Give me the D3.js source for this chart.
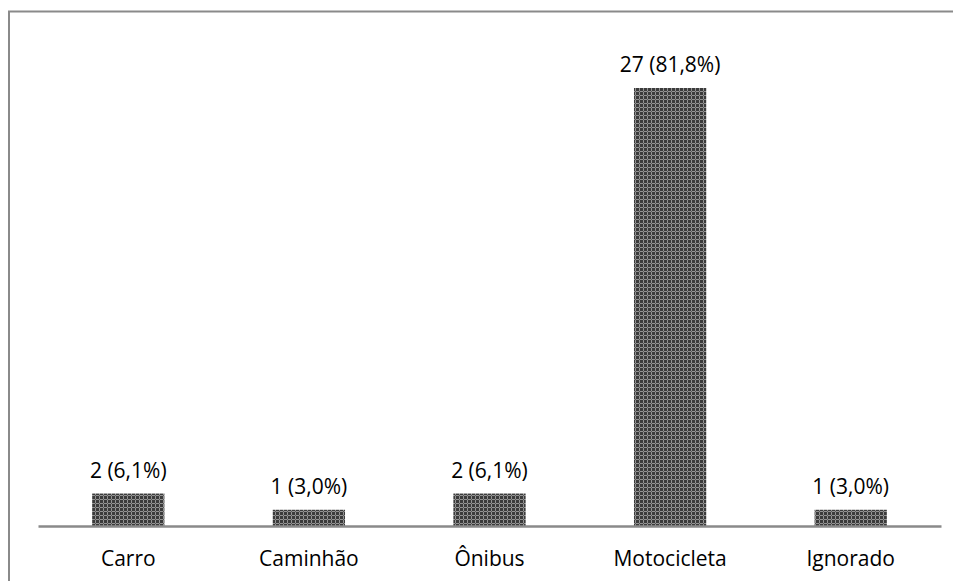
<!DOCTYPE html>
<html>
<head>
<meta charset="utf-8">
<script src="https://cdn.jsdelivr.net/npm/d3@7"></script>
<style>
  html, body { margin: 0; padding: 0; background: #fff; }
  svg { display: block; }
</style>
</head>
<body>
<svg id="chart" width="953" height="581"></svg>
<script>
// Vehicle types and counts (with share of total)
const categories = ["Carro", "Caminhão", "Ônibus", "Motocicleta", "Ignorado"];
const counts = [2, 1, 2, 27, 1];
const shares = ["6,1%", "3,0%", "6,1%", "81,8%", "3,0%"];

const svg = d3.select("#chart");
const W = 953, H = 581;
const font = "'Open Sans', 'Noto Sans', sans-serif";

// Hatched-grid fill used by the bars
const defs = svg.append("defs");
const pat = defs.append("pattern")
  .attr("id", "grid")
  .attr("patternUnits", "userSpaceOnUse")
  .attr("width", 4).attr("height", 4);
pat.append("rect").attr("width", 4).attr("height", 4).attr("fill", "#3b3b3b");
pat.append("rect").attr("x", 0).attr("y", 3).attr("width", 4).attr("height", 1).attr("fill", "#939393");
pat.append("rect").attr("x", 3).attr("y", 0).attr("width", 1).attr("height", 4).attr("fill", "#939393");
pat.append("rect").attr("x", 3).attr("y", 3).attr("width", 1).attr("height", 1).attr("fill", "#5a5a5a");

// Chart frame (left and top edges visible)
svg.append("line").attr("x1", 9).attr("x2", 9).attr("y1", 11).attr("y2", H)
  .attr("stroke", "#8a8a8a").attr("stroke-width", 2);
svg.append("line").attr("x1", 8).attr("x2", W).attr("y1", 11.5).attr("y2", 11.5)
  .attr("stroke", "#8a8a8a").attr("stroke-width", 2);

// Scales
const x = d3.scaleBand().domain(categories).range([38, 941]).padding(0);
const y = d3.scaleLinear().domain([0, 27]).range([526, 88]);
const barW = x.bandwidth() * 0.4;

const data = categories.map((c, i) => ({ cat: c, v: counts[i], pct: shares[i] }));

// Bars
svg.append("g").selectAll("rect").data(data).join("rect")
  .attr("x", d => x(d.cat) + (x.bandwidth() - barW) / 2)
  .attr("y", d => y(d.v))
  .attr("width", barW)
  .attr("height", d => y(0) - y(d.v))
  .attr("fill", "url(#grid)");

// Category axis
const xAxis = svg.append("g")
  .attr("transform", `translate(0,${y(0)})`)
  .call(d3.axisBottom(x).tickSize(0).tickPadding(25));
xAxis.select(".domain").attr("stroke", "#8a8a8a").attr("stroke-width", 2.5);
xAxis.selectAll("text")
  .attr("font-family", font).attr("font-size", 21).attr("fill", "#000");

// Value labels
svg.append("g").selectAll("text").data(data).join("text")
  .attr("x", d => x(d.cat) + x.bandwidth() / 2)
  .attr("y", d => y(d.v) - 16)
  .attr("text-anchor", "middle")
  .attr("font-family", font).attr("font-size", 21).attr("fill", "#000")
  .text(d => `${d.v} (${d.pct})`);
</script>
</body>
</html>
